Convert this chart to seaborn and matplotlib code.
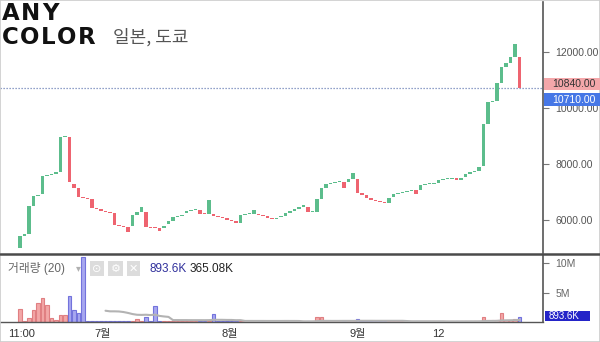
import numpy as np
import pandas as pd
import matplotlib
matplotlib.use("Agg")
import matplotlib.pyplot as plt
from matplotlib.patches import Rectangle
from matplotlib.lines import Line2D
import seaborn as sns

# ---------------- data ----------------
opens = [4990, 5420, 5490, 6490, 6850, 6908, 7572, 7610, 7650, 7693,
         8950, 8943, 7290, 7122, 6822, 6780, 6740, 6408, 6370, 6320,
         6290, 6250, 5811, 5786, 5751, 5776, 6168, 6286, 6280, 5729,
         5710, 5694, 5694, 5836, 5965, 6086, 6130, 6230, 6310, 6330,
         6346, 6210, 6204, 6204, 6150, 6100, 6050, 6000, 5950, 5893,
         6168, 6200, 6204, 6220, 6170, 6120, 6070, 6015, 6080, 6150,
         6230, 6310, 6390, 6460, 6465, 6265, 6280, 6730, 7122, 7275,
         7300, 7330, 7358, 7347, 7454, 7443, 6943, 6900, 6765, 6720,
         6680, 6640, 6610, 6800, 6920, 6960, 7000, 7030, 7060, 7060,
         7240, 7260, 7280, 7322, 7418, 7450, 7470, 7480, 7418, 7535,
         7622, 7715, 7740, 7918, 9407, 10214, 10250, 10893, 11443, 11586,
         11822, 11822]
closes = [5420, 5480, 6490, 6846, 6900, 7572, 7610, 7650, 7693, 8943,
          8990, 7336, 7143, 6822, 6780, 6740, 6408, 6370, 6320, 6290,
          6230, 5811, 5786, 5750, 5572, 6168, 6286, 6444, 5729, 5710,
          5694, 5597, 5776, 5954, 6086, 6130, 6168, 6310, 6330, 6346,
          6210, 6204, 6704, 6150, 6100, 6050, 6000, 5950, 5890, 6168,
          6200, 6220, 6346, 6170, 6120, 6070, 6015, 6060, 6150, 6230,
          6310, 6390, 6460, 6525, 6265, 6280, 6730, 7122, 7275, 7300,
          7330, 7358, 7122, 7443, 7657, 6943, 6900, 6765, 6720, 6680,
          6640, 6610, 6765, 6908, 6960, 7000, 7030, 7060, 6908, 7240,
          7260, 7280, 7300, 7418, 7450, 7470, 7490, 7418, 7500, 7622,
          7715, 7740, 7893, 9407, 10214, 10250, 10893, 11443, 11586, 11822,
          12264, 10710]
volumes_m = [2.2, 0.2, 0.6, 2.0, 3.2, 4.0, 2.9, 0.6, 0.35, 1.2,
             1.2, 4.5, 2.0, 1.6, 11.0, 0.15, 0.2, 0.1, 0.25, 0.1,
             0.15, 0.2, 0.1, 0.1, 0.15, 0.2, 0.45, 0.15, 0.9, 0.1,
             2.7, 0.1, 0.15, 0.1, 0.1, 0.2, 0.1, 0.1, 0.1, 0.1,
             0.15, 0.1, 0.25, 1.3, 0.1, 0.1, 0.1, 0.1, 0.1, 0.2,
             0.1, 0.1, 0.1, 0.1, 0.1, 0.1, 0.1, 0.1, 0.1, 0.2,
             0.1, 0.1, 0.1, 0.1, 0.1, 0.1, 0.9, 0.9, 0.1, 0.1,
             0.1, 0.1, 0.15, 0.1, 0.1, 0.45, 0.1, 0.1, 0.1, 0.1,
             0.1, 0.1, 0.1, 0.1, 0.1, 0.1, 0.1, 0.1, 0.1, 0.15,
             0.1, 0.1, 0.1, 0.1, 0.1, 0.1, 0.1, 0.1, 0.15, 0.15,
             0.15, 0.15, 0.15, 0.9, 0.4, 0.3, 0.3, 1.6, 0.4, 0.4,
             0.5, 0.8936]

x_tick_pos = [0.44, 18.4, 46.7, 75.1, 92.9]
x_tick_labels = ["11:00", "7월", "8월", "9월", "12"]
price_ticks = [6000, 8000, 10000, 12000]
vol_ticks = [5, 10]
vol_tick_labels = ["5M", "10M"]
last_price = 10710
ref_price = 10840
last_volume = 0.8936
last_volume_label = "893.6K"
ma_value_label = "365.08K"
title_lines = ["ANY", "COLOR"]
subtitle = "일본, 도쿄"
volume_title = "거래량 (20)"

# ---------------- style ----------------
sns.set_style("white")
plt.rcParams["font.family"] = ["Liberation Sans", "Noto Sans CJK KR", "DejaVu Sans"]

UP = "#5cbd8c"
DOWN = "#ee6470"
VOL_UP_FC, VOL_UP_EC = "#f2a7a7", "#e07f82"
VOL_DN_FC, VOL_DN_EC = "#a7a7f0", "#7373dc"
AXC = "#555555"

W, H = 600, 342
fig = plt.figure(figsize=(W / 100, H / 100), dpi=100)
fig.patch.set_facecolor("white")

ax = fig.add_axes([0, 1 - 253 / H, 543 / W, (253 - 2) / H])
axv = fig.add_axes([0, 1 - 322 / H, 543 / W, (322 - 255) / H])

N = len(closes)
idx = np.arange(N)
o = np.array(opens, float)
c = np.array(closes, float)
up = c >= o

# ---------------- candles ----------------
bottoms = np.minimum(o, c)
heights = np.maximum(np.abs(c - o), 35)
ax.bar(idx, heights, bottom=bottoms, width=0.72,
       color=np.where(up, UP, DOWN), linewidth=0, zorder=3)
ax.axhline(last_price, color="#6f82b8", lw=0.9, ls=(0, (1, 1.4)), zorder=2)

ax.set_xlim(-4.44, 116.2)
ax.set_ylim(4811, 13775)
ax.set_xticks([])
ax.yaxis.tick_right()
ax.set_yticks(price_ticks)
ax.set_yticklabels([f"{v:.2f}" for v in price_ticks])
ax.tick_params(axis="y", direction="out", length=4, width=0.8, color="#777",
               labelcolor=AXC, labelsize=7.5, pad=5)
for s in ["top", "left", "bottom"]:
    ax.spines[s].set_visible(False)
ax.spines["right"].set_color(AXC)
ax.spines["right"].set_linewidth(1.2)

# ---------------- volume ----------------
df = pd.DataFrame({"i": idx, "vol": volumes_m,
                   "dir": np.where(up, "up", "down")})
df["ma"] = df["vol"].rolling(20).mean()
sns.barplot(data=df, x="i", y="vol", hue="dir",
            palette={"up": VOL_UP_FC, "down": VOL_DN_FC}, saturation=1,
            native_scale=True, dodge=False, width=0.8, errorbar=None,
            legend=False, linewidth=0.8, ax=axv)
for p in axv.patches:
    fc = matplotlib.colors.to_hex(p.get_facecolor())
    p.set_edgecolor(VOL_UP_EC if fc == VOL_UP_FC else VOL_DN_EC)
sns.lineplot(data=df.dropna(), x="i", y="ma", color="#b3b3b3", lw=1.5,
             ax=axv, zorder=4)
axv.set_xlim(-4.44, 116.2)
axv.set_ylim(0, 11.4)
axv.set_xlabel("")
axv.set_ylabel("")
axv.yaxis.tick_right()
axv.set_yticks(vol_ticks)
axv.set_yticklabels(vol_tick_labels)
axv.tick_params(axis="y", direction="out", length=4, width=0.8, color="#777",
                labelcolor="#666", labelsize=7.5, pad=5)
axv.set_xticks(x_tick_pos)
axv.set_xticklabels(x_tick_labels)
axv.tick_params(axis="x", direction="out", length=3, width=0.8, color="#777",
                labelcolor="#333", labelsize=8, pad=2)
for s in ["top", "left"]:
    axv.spines[s].set_visible(False)
for s in ["right", "bottom"]:
    axv.spines[s].set_color(AXC)
axv.spines["right"].set_linewidth(1.2)
axv.spines["bottom"].set_linewidth(1.0)
axv.grid(False)
ax.grid(False)

# ---------------- price / volume labels on right ----------------
inv = fig.transFigure.inverted()


def fig_y(a, v):
    return inv.transform(a.transData.transform((0, v)))[1]


yc = fig_y(ax, ref_price)
fig.add_artist(Rectangle((544 / W, yc - 6.2 / H), 56 / W, 12.4 / H,
                         transform=fig.transFigure, fc="#f4a7aa", ec="none", zorder=10))
fig.text(552 / W, yc, f"{ref_price:.2f}", color="#333", fontsize=7.5,
         va="center", ha="left", zorder=11)
yc = fig_y(ax, last_price) - 11.7 / H
fig.add_artist(Rectangle((544 / W, yc - 6.4 / H), 56 / W, 12.8 / H,
                         transform=fig.transFigure, fc="#4677e6", ec="none", zorder=10))
fig.text(552 / W, yc, f"{last_price:.2f}", color="white", fontsize=7.5,
         va="center", ha="left", zorder=11)
yc = fig_y(axv, last_volume) + 0.8 / H
fig.add_artist(Rectangle((545 / W, yc - 4.9 / H), 45 / W, 9.8 / H,
                         transform=fig.transFigure, fc="#2424c8", ec="none", zorder=10))
fig.text(549 / W, yc, last_volume_label, color="white", fontsize=7,
         va="center", ha="left", zorder=11)

# ---------------- separators / frame ----------------
fig.add_artist(Line2D([0, 1], [1 - 253.5 / H] * 2, color="#4a4a4a", lw=1.8,
                      transform=fig.transFigure))
fig.add_artist(Rectangle((0, 0), 1, 1, transform=fig.transFigure, fill=False,
                         ec="#cccccc", lw=1.2))

# ---------------- header ----------------
renderer = fig.canvas.get_renderer()


def spaced(x_px, y_px, s, gap, **kw):
    x = x_px
    for ch in s:
        t = fig.text(x / W, 1 - y_px / H, ch, va="baseline", ha="left", **kw)
        x += t.get_window_extent(renderer=renderer).width + gap


logo_kw = dict(family="DejaVu Sans", weight="bold", fontsize=16.5, color="#111")
spaced(2, 20.5, title_lines[0], 1.5, **logo_kw)
spaced(2, 44, title_lines[1], 1.5, **logo_kw)
fig.text(113 / W, 1 - 43 / H, subtitle, family=["Noto Sans CJK KR"],
         fontsize=13, color="#555", va="baseline", ha="left")

# ---------------- volume legend ----------------
fig.text(8 / W, 1 - 268.5 / H, volume_title, fontsize=8.5, color="#666",
         va="center", ha="left", family=["Liberation Sans", "Noto Sans CJK KR"])
fig.text(76 / W, 1 - 268 / H, "▾", fontsize=7, color="#b0b0b0",
         va="center", ha="left", family=["DejaVu Sans"])
for xp, sym in zip([97, 115.5, 133.5], ["⊙", "⚙", "✕"]):
    fig.text(xp / W, 1 - 268.5 / H, sym, fontsize=8, color="white",
             va="center", ha="center", family=["DejaVu Sans"],
             bbox=dict(boxstyle="square,pad=0.2", fc="#dcdcdc", ec="none"))
fig.text(150 / W, 1 - 268.5 / H, last_volume_label, fontsize=8.5,
         color="#30309c", va="center", ha="left")
fig.text(190 / W, 1 - 268.5 / H, ma_value_label, fontsize=8.5,
         color="#222", va="center", ha="left")

fig.savefig("out.png", dpi=100, facecolor="white")
